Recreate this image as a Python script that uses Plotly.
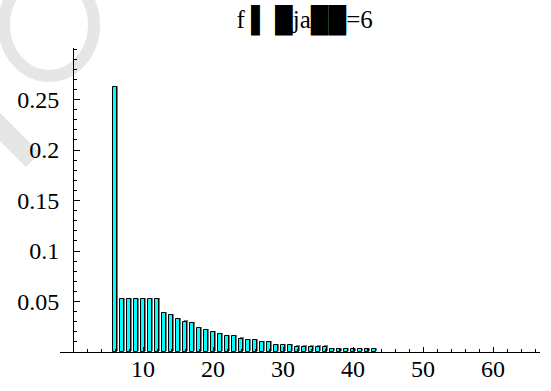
import plotly.graph_objects as go

# ---- data ----
x_vals = list(range(6, 44))
y_vals = [0.262,
          0.052, 0.052, 0.052, 0.052, 0.052, 0.052,
          0.0386, 0.0366, 0.0324, 0.030, 0.0283, 0.024,
          0.0218, 0.0195, 0.0175, 0.0158, 0.0158, 0.0133,
          0.0117, 0.0117, 0.0097, 0.0097, 0.0070, 0.0070, 0.0070,
          0.0053, 0.0053, 0.0053, 0.0053, 0.0053,
          0.003, 0.003, 0.003, 0.003, 0.003, 0.003, 0.003]
x_ticks = [10, 20, 30, 40, 50, 60]
y_ticks = [0.05, 0.1, 0.15, 0.2, 0.25]
y_tick_text = ["0.05", "0.1", "0.15", "0.2", "0.25"]
title_text = "f ▌ █ja██=6"

x_range = [-1.86, 66.7]
y_range = [0, 0.301]
shadow_dx = 0.18
shadow_dy = 0.0012
font_family = "Liberation Serif, Times New Roman, serif"

fig = go.Figure()
# drop shadow
fig.add_trace(go.Bar(
    x=[v + shadow_dx for v in x_vals], y=y_vals, base=shadow_dy, width=0.6,
    marker=dict(color="#7a7a7a", line=dict(width=0)),
    hoverinfo="skip", showlegend=False))
# main bars
fig.add_trace(go.Bar(
    x=x_vals, y=y_vals, width=0.6,
    marker=dict(color="#00ffff", line=dict(color="black", width=1)),
    showlegend=False))

ypos = (0 - x_range[0]) / (x_range[1] - x_range[0])

fig.update_layout(
    width=551, height=391,
    margin=dict(l=60, r=11, t=48, b=39),
    paper_bgcolor="white", plot_bgcolor="white",
    barmode="overlay", bargap=0,
    font=dict(family=font_family, size=24, color="black"),
    title=dict(text=title_text, x=0.553, xref="container", xanchor="center",
               y=0.95, yref="container", yanchor="middle",
               font=dict(family=font_family, size=25, color="black"),
               automargin=False),
    xaxis=dict(range=x_range, showgrid=False, zeroline=False, automargin=False,
               showline=True, linecolor="black", linewidth=1,
               ticks="inside", ticklen=5, tickcolor="black", tickwidth=1,
               tickvals=x_ticks, ticktext=[str(v) for v in x_ticks],
               minor=dict(ticks="inside", dtick=2, tick0=0, ticklen=3,
                          tickcolor="black", showgrid=False),
               tickfont=dict(size=24), ticklabelstandoff=-5),
    yaxis=dict(range=y_range, showgrid=False, zeroline=False, automargin=False,
               anchor="free", position=ypos,
               showline=True, linecolor="black", linewidth=1,
               ticks="inside", ticklen=6, tickcolor="black", tickwidth=1,
               tickvals=y_ticks, ticktext=y_tick_text,
               minor=dict(ticks="inside", dtick=0.01, tick0=0, ticklen=3,
                          tickcolor="black", showgrid=False),
               tickfont=dict(size=24), ticklabelstandoff=9),
)

# faint watermark in the upper-left corner
def px_to_paper_x(px):
    return (px - 60) / 480.0

def py_to_paper_y(py):
    return (352 - py) / 304.0

fig.add_shape(type="circle", xref="paper", yref="paper", layer="below",
              x0=px_to_paper_x(4), x1=px_to_paper_x(94),
              y0=py_to_paper_y(76), y1=py_to_paper_y(-26),
              line=dict(color="#e6e6e6", width=12), fillcolor="rgba(0,0,0,0)")
fig.add_shape(type="line", xref="paper", yref="paper", layer="below",
              x0=px_to_paper_x(-20), y0=py_to_paper_y(107),
              x1=px_to_paper_x(33), y1=py_to_paper_y(160),
              line=dict(color="#e6e6e6", width=20))

fig.write_html("out.html")
